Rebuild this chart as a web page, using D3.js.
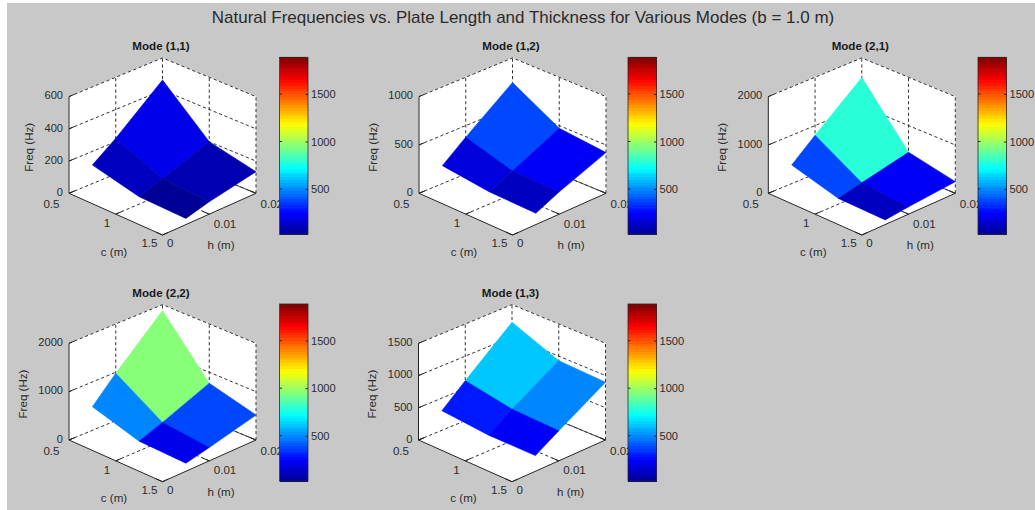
<!DOCTYPE html>
<html>
<head>
<meta charset="utf-8">
<script src="https://cdnjs.cloudflare.com/ajax/libs/d3/7.8.5/d3.min.js"></script>
<style>
    html, body { margin: 0; padding: 0; background: #fff; }
    text { font-family: "Liberation Sans", Arial, sans-serif; fill: #2b2b2b; }
    .tick text { font-size: 11.1px; }
    .axlabel { font-size: 11.6px; }
    .modetitle { font-size: 11.6px; font-weight: bold; fill: #1a1a1a; }
    .suptitle { font-size: 17px; }
</style>
</head>
<body>
<div id="chartArea"></div>
<script>
// natural frequencies, one surface per mode

// 1. data (rows = c, columns = h)
var modeNames = ["Mode (1,1)", "Mode (1,2)", "Mode (2,1)", "Mode (2,2)", "Mode (1,3)"];
var cValues = [0.5, 1, 1.5];
var hValues = [0.005, 0.01, 0.02];

var freq11 = [[116, 221, 463], [46, 97, 200], [38, 77, 134]];
var freq12 = [[186, 380, 745], [128, 238, 472], [117, 231, 421]];
var freq21 = [[386, 800, 1593], [117, 234, 448], [97, 152, 241]];
var freq22 = [[490, 979, 1876], [200, 379, 772], [166, 276, 517]];
var freq13 = [[305, 620, 1226], [243, 490, 931], [243, 465, 895]];

var zTicks11 = [0, 200, 400, 600];
var zTicks12 = [0, 500, 1000];
var zTicks21 = [0, 1000, 2000];
var zTicks22 = [0, 1000, 2000];
var zTicks13 = [0, 500, 1000, 1500];

var cTicks = [0.5, 1, 1.5];
var hTicks = [0, 0.01, 0.02];
var barTicks = [500, 1000, 1500];

// 2. layout
var width = 1035, height = 510;
var boxH = 96.7;          // height of the z axis in px
var barW = 28.5, barH = 177;

var panels = [
    {x: 69,    y: 193.3, barX: 279.5, freq: freq11, ticks: zTicks11},
    {x: 419,   y: 193.3, barX: 628,   freq: freq12, ticks: zTicks12},
    {x: 768.3, y: 193.3, barX: 978,   freq: freq21, ticks: zTicks21},
    {x: 69,    y: 440,   barX: 279.5, freq: freq22, ticks: zTicks22},
    {x: 418.5, y: 440,   barX: 628,   freq: freq13, ticks: zTicks13}
];

var svg = d3.select("#chartArea").append("svg")
    .attr("width", width)
    .attr("height", height)
    .style("display", "block");

svg.append("rect")
    .attr("x", 7).attr("y", 3)
    .attr("width", width - 7).attr("height", height - 3)
    .attr("fill", "#c8c8c8");

svg.append("text")
    .attr("class", "suptitle")
    .attr("x", 523).attr("y", 23)
    .attr("text-anchor", "middle")
    .text("Natural Frequencies vs. Plate Length and Thickness for Various Modes (b = 1.0 m)");

// 3. jet colormap, 64 flat steps like matlab
var colorMin = 23, colorMax = 1886;
var jet = d3.scaleLinear()
    .domain([0, 0.125, 0.375, 0.625, 0.875, 1])
    .range(["#00008f", "#0000ff", "#00ffff", "#ffff00", "#ff0000", "#800000"]);
var colorFrac = d3.scaleLinear().domain([colorMin, colorMax]).range([0, 1]).clamp(true);
var color = function(v) {
    var step = Math.min(63, Math.floor(colorFrac(v) * 64));
    return jet((step + 0.5) / 64);
};

// 4. axis fractions along the floor
var cScale = d3.scaleLinear().domain([0.5, 1.5]).range([0, 1]);
var hScale = d3.scaleLinear().domain([0, 0.02]).range([0, 1]);

// floor corners relative to the left corner, not quite a parallelogram
function floor(cf, hf) {
    var x0 = 93.5 * hf;                 // c low edge: left -> back
    var y0 = -38.7 * hf;
    var x1 = 93.5 + 93.5 * hf;          // c high edge: bottom -> right
    var y1 = 41.7 - 41.7 * hf;
    return [x0 + (x1 - x0) * cf, y0 + (y1 - y0) * cf];
}

panels.forEach(function(p, idx) {
    var g = svg.append("g").attr("transform", "translate(" + p.x + "," + p.y + ")");
    var zMax = p.ticks[p.ticks.length - 1];
    var zScale = d3.scaleLinear().domain([0, zMax]).range([0, -boxH]);

    var project = function(c, h, z) {
        var f = floor(cScale(c), hScale(h));
        return [f[0], f[1] + zScale(z)];
    };
    var line = d3.line();
    var path = function(pts, dash, col, w) {
        g.append("path")
            .attr("d", line(pts))
            .attr("fill", "none")
            .attr("stroke", col || "#1c1c1c")
            .attr("stroke-width", w || 0.9)
            .attr("stroke-dasharray", dash ? "3.2,2.6" : null);
    };

    // white walls and floor
    [
        [project(0.5, 0, 0), project(0.5, 0, zMax), project(0.5, 0.02, zMax), project(0.5, 0.02, 0)],
        [project(0.5, 0.02, 0), project(0.5, 0.02, zMax), project(1.5, 0.02, zMax), project(1.5, 0.02, 0)],
        [project(0.5, 0, 0), project(0.5, 0.02, 0), project(1.5, 0.02, 0), project(1.5, 0, 0)]
    ].forEach(function(q) {
        g.append("path").attr("d", line(q) + "Z").attr("fill", "#fff").attr("stroke", "#fff").attr("stroke-width", 0.5);
    });

    // dashed box grid
    p.ticks.forEach(function(t) {
        path([project(0.5, 0, t), project(0.5, 0.02, t), project(1.5, 0.02, t)], true);
    });
    path([project(0.5, 0.02, 0), project(0.5, 0.02, zMax)], true);
    path([project(1.5, 0.02, 0), project(1.5, 0.02, zMax)], true);
    path([project(1, 0.02, 0), project(1, 0.02, zMax)], true);
    path([project(0.5, 0.01, 0), project(0.5, 0.01, zMax)], true);
    path([project(1, 0, 0), project(1, 0.02, 0)], true);
    path([project(0.5, 0.01, 0), project(1.5, 0.01, 0)], true);
    path([project(1, 0.02, 0), project(1.5, 0.02, 0)], false, "#333");

    // surface, back quads first; flat colour comes from the low index vertex
    d3.range(cValues.length - 1).forEach(function(i) {
        d3.range(hValues.length - 2, -1, -1).forEach(function(j) {
            var q = [
                project(cValues[i], hValues[j], p.freq[i][j]),
                project(cValues[i], hValues[j + 1], p.freq[i][j + 1]),
                project(cValues[i + 1], hValues[j + 1], p.freq[i + 1][j + 1]),
                project(cValues[i + 1], hValues[j], p.freq[i + 1][j])
            ];
            g.append("path")
                .attr("class", "face")
                .attr("d", line(q) + "Z")
                .attr("fill", color(p.freq[i][j]))
                .attr("stroke", color(p.freq[i][j]))
                .attr("stroke-width", 0.6);
        });
    });

    // solid axis lines
    path([project(0.5, 0, zMax), project(0.5, 0, 0), project(1.5, 0, 0), project(1.5, 0.02, 0)], false, "#222", 1);

    // z axis ticks and labels
    p.ticks.forEach(function(t) {
        path([project(0.5, 0, t), project(0.5, 0.0012, t)], false, "#222", 1);
    });
    var zAxis = d3.axisLeft(d3.scaleLinear().domain([0, zMax]).range([0, -boxH]))
        .tickValues(p.ticks)
        .tickSize(0)
        .tickPadding(6)
        .tickFormat(d3.format("d"));
    g.append("g").call(zAxis)
        .call(function(a) { a.select(".domain").remove(); })
        .selectAll("text").attr("dy", "0.2em");

    // c axis ticks and labels
    var cLabelDx = [-9.5, -5.5, -5];
    var cLabelDy = [14.7, 13.2, 12.3];
    cTicks.forEach(function(t, i) {
        var a = project(t, 0, 0);
        path([a, project(t, 0.0012, 0)], false, "#222", 1);
        g.append("text").attr("class", "axlabel")
            .attr("x", a[0] + cLabelDx[i]).attr("y", a[1] + cLabelDy[i])
            .attr("text-anchor", "end").text(t);
    });
    // h axis ticks and labels
    var hLabelDy = [12.3, 13.6, 14.7];
    hTicks.forEach(function(t, i) {
        var a = project(1.5, t, 0);
        path([a, project(1.43, t, 0)], false, "#222", 1);
        g.append("text").attr("class", "axlabel")
            .attr("x", a[0] + 4.5).attr("y", a[1] + hLabelDy[i])
            .text(t);
    });

    // axis labels
    g.append("text").attr("class", "axlabel")
        .attr("x", 45).attr("y", 62.4).attr("text-anchor", "middle").text("c (m)");
    g.append("text").attr("class", "axlabel")
        .attr("x", 152).attr("y", 55.7).attr("text-anchor", "middle").text("h (m)");
    var digits = String(zMax).length;
    g.append("text").attr("class", "axlabel")
        .attr("transform", "translate(" + (-(22 + 6.12 * digits) + 4) + "," + (-46) + ")rotate(-90)")
        .attr("text-anchor", "middle").text("Freq (Hz)");

    g.append("text").attr("class", "modetitle")
        .attr("x", 92).attr("y", -143.5)
        .attr("text-anchor", "middle")
        .text(modeNames[idx]);

    // 5. colorbar
    var barTop = p.y - 136;
    var bar = svg.append("g").attr("transform", "translate(" + p.barX + "," + barTop + ")");
    var barScale = d3.scaleLinear().domain([colorMin, colorMax]).range([barH, 0]);
    var stepV = (colorMax - colorMin) / 64;
    bar.selectAll("rect.step")
        .data(d3.range(64))
        .enter().append("rect")
        .attr("class", "step")
        .attr("x", 0)
        .attr("width", barW)
        .attr("y", function(d) { return barScale(colorMin + (d + 1) * stepV); })
        .attr("height", function() { return barScale(colorMin) - barScale(colorMin + stepV) + 1; })
        .attr("fill", function(d) { return jet((d + 0.5) / 64); })
        .attr("shape-rendering", "crispEdges");
    bar.append("rect")
        .attr("width", barW).attr("height", barH)
        .attr("fill", "none").attr("stroke", "#2a2a2a").attr("stroke-width", 0.8);
    var barAxis = d3.axisRight(barScale)
        .tickValues(barTicks)
        .tickSizeInner(-2.5)
        .tickSizeOuter(0)
        .tickPadding(3)
        .tickFormat(d3.format("d"));
    var axG = bar.append("g").attr("transform", "translate(" + barW + ",0)").call(barAxis);
    axG.select(".domain").remove();
    axG.selectAll(".tick line").attr("stroke", "#2a2a2a");
    bar.selectAll(".lefttick")
        .data(barTicks)
        .enter().append("line")
        .attr("class", "lefttick")
        .attr("x1", 0).attr("x2", 2.5)
        .attr("y1", function(d) { return barScale(d); })
        .attr("y2", function(d) { return barScale(d); })
        .attr("stroke", "#2a2a2a");
});
</script>
</body>
</html>
